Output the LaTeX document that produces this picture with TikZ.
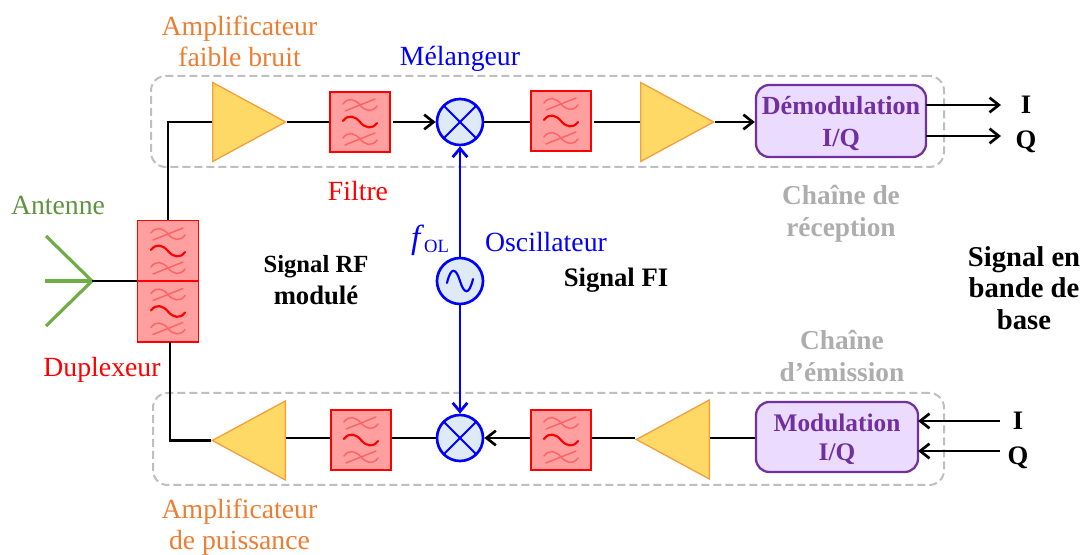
\documentclass[tikz,border=0pt]{standalone}
\usepackage{fontspec}
\setmainfont{Liberation Serif}
\usetikzlibrary{arrows.meta,shapes.geometric}
\definecolor{ampfill}{HTML}{FFD966}
\definecolor{ampline}{HTML}{F4A040}
\definecolor{ampt}{HTML}{ED7D31}
\definecolor{filtfill}{HTML}{FF9F9F}
\definecolor{filtwave}{HTML}{FF6464}
\definecolor{mixfill}{HTML}{DEEAF6}
\definecolor{violet}{HTML}{7030A0}
\definecolor{modfill}{HTML}{EBDCFF}
\definecolor{antg}{HTML}{70AD47}
\definecolor{antt}{HTML}{5E9441}
\definecolor{cadre}{HTML}{BFBFBF}
\definecolor{cadret}{HTML}{ADADAD}
\tikzset{
  txt/.style={font=\fontsize{20.8}{23.2}\selectfont, align=center, inner sep=0pt},
  txtb/.style={txt, font=\fontsize{20}{24}\selectfont\bfseries},
  lien/.style={line width=2.1pt, black},
  fleche/.style={lien, -{Straight Barb[length=7pt,width=11pt,line width=2pt]}},
  lienosc/.style={line width=2.2pt, blue, {Straight Barb[length=6.5pt,width=11pt,line width=2.1pt]}-},
  cadrepoint/.style={draw=cadre, line width=1.5pt, dash pattern=on 6pt off 3pt, rounded corners=11pt},
  ampli/.style={isosceles triangle, isosceles triangle stretches, draw=ampline, fill=ampfill, anchor=lower side,
    line width=1pt, inner sep=0pt, minimum width=79*.75pt, minimum height=73*.75pt},
  filtre/.style={rectangle, draw=red, fill=filtfill, line width=1.2pt, inner sep=0pt, minimum size=60*.75pt,
    path picture={
      \begin{scope}[shift={(path picture bounding box.center)}]
        \foreach \dy in {-17,17} {
          \draw[filtwave, line width=1.1pt, line cap=round] (-17,\dy-1) .. controls (-12,\dy-8) and (-5,\dy-6) .. (0,\dy) .. controls (5,\dy+6) and (12,\dy+8) .. (17,\dy+1);
          \draw[filtwave, line width=1.1pt, line cap=round] (-15,\dy+6) -- (15,\dy-6);
        }
        \draw[red, line width=1.6pt, line cap=round] (-17,-1) .. controls (-12,-8) and (-5,-6) .. (0,0) .. controls (5,6) and (12,8) .. (17,1);
      \end{scope}
    }},
  rond/.style={circle, draw=blue, fill=mixfill, line width=2pt, inner sep=0pt, minimum size=46*.75pt},
  melange/.style={rond, path picture={
      \draw[blue, line width=1.5pt] (path picture bounding box.north west) -- (path picture bounding box.south east);
      \draw[blue, line width=1.5pt] (path picture bounding box.north east) -- (path picture bounding box.south west);
    }},
  oscill/.style={rond, path picture={
      \begin{scope}[shift={(path picture bounding box.center)}]
        \draw[blue, line width=1.6pt, line cap=round] (-13,2) .. controls (-9,-15) and (-4,-13) .. (0,0) .. controls (4,13) and (9,15) .. (13,-2);
      \end{scope}
    }},
  modbox/.style={rectangle, rounded corners=10pt, draw=violet, fill=modfill, line width=1.7pt, text=violet,
    align=center, inner sep=0pt}
}
\begin{document}
\begin{tikzpicture}[x=.75pt, y=-.75pt]
   \useasboundingbox (0,0) rectangle (1082,555);
   % cadres
   \node[cadrepoint, minimum width=793*.75pt, minimum height=91*.75pt, inner sep=0pt] (recep) at (547.5,121.5) {};
   \node[cadrepoint, minimum width=791*.75pt, minimum height=92*.75pt, inner sep=0pt] (emis) at (548.5,439) {};
   % duplexeur et antenne
   \node[filtre, minimum size=61*.75pt] (dupa) at (168,251) {};
   \node[filtre, minimum size=61*.75pt] (dupb) at (168,311.5) {};
   \coordinate (anta) at (92,281);
   \coordinate (antb) at (46,236);
   \coordinate (antc) at (45,281);
   \coordinate (antd) at (46,326);
   \draw[antg, line width=2.4pt] (antb) -- (anta) -- (antd);
   \draw[antg, line width=3pt] (antc) -- (anta);
   \coordinate (dupg) at (137,281);
   \draw[lien] (anta) -- (dupg);
   % chaine de reception
   \node[ampli] (ampa) at (212,122) {};
   \node[filtre] (fa) at (360,122) {};
   \node[melange] (mixa) at (460,122) {};
   \node[filtre] (fb) at (561,121) {};
   \node[ampli] (ampb) at (640,122) {};
   \node[modbox, minimum width=170*.75pt, minimum height=72*.75pt] (demod) at (841,121) {};
   \node[text=violet, font=\fontsize{19.6}{24}\selectfont\bfseries, align=center, inner sep=0pt] (demodt) at (841,124) {Démodulation\\I/Q};
   \coordinate (sorti) at (1001,105);
   \coordinate (sortq) at (1001,136);
   \coordinate (demi) at (926,105);
   \coordinate (demq) at (926,136);
   \draw[lien] (dupa.north) |- (ampa.lower side);
   \draw[lien] (ampa.apex) -- (fa.west);
   \draw[fleche] ([xshift=1.5pt]fa.east) -- (mixa.west);
   \draw[lien] (mixa.east) -- (fb.west |- mixa.east);
   \draw[lien] ([xshift=1.5pt]fb.east |- mixa.east) -- (ampb.lower side);
   \draw[fleche] (ampb.apex) -- (demod.west |- ampb.apex);
   \draw[fleche] (demi) -- (sorti);
   \draw[fleche] (demq) -- (sortq);
   % chaine d'emission
   \node[ampli, shape border rotate=180] (ampc) at (286,440.5) {};
   \node[filtre] (fc) at (361,440) {};
   \node[melange] (mixb) at (460,438) {};
   \node[filtre] (fd) at (561,440) {};
   \node[ampli, shape border rotate=180] (ampd) at (710,439.5) {};
   \node[modbox, minimum width=162*.75pt, minimum height=70*.75pt] (mod) at (837,437) {};
   \node[text=violet, font=\fontsize{19}{21.5}\selectfont\bfseries, align=center, inner sep=0pt] (modt) at (837,439) {Modulation\\I/Q};
   \coordinate (duph) at (170,342);
   \coordinate (entri) at (1000,421);
   \coordinate (entrq) at (1000,451);
   \coordinate (modi) at (918,421);
   \coordinate (modq) at (918,451);
   \draw[lien] (duph) |- (ampc.apex);
   \draw[lien] (ampc.lower side |- mixb.west) -- (fc.west |- mixb.west);
   \draw[lien] (fc.east |- mixb.west) -- (mixb.west);
   \draw[fleche] (fd.west |- mixb.east) -- (mixb.east);
   \draw[lien] (fd.east |- mixb.east) -- (ampd.apex |- mixb.east);
   \draw[lien] (mod.west |- mixb.east) -- (ampd.lower side |- mixb.east);
   \draw[fleche] (entri) -- (modi);
   \draw[fleche] (entrq) -- (modq);
   % oscillateur
   \node[oscill] (osc) at (460,281) {};
   \draw[lienosc] (mixa.south) -- (osc.north);
   \draw[lienosc] (mixb.north) -- (osc.south);
   % textes
   \node[txt, text=ampt] (lnalab) at (239.5,41) {Amplificateur\\faible bruit};
   \node[txt, text=blue] (mixlab) at (460,59) {Mélangeur};
   \node[txt, text=red] (filtlab) at (358,191) {Filtre};
   \node[txt, text=antt] (antlab) at (58,205) {Antenne};
   \node[txt, text=red] (duplab) at (102,370) {Duplexeur};
   \node[txt, text=blue, font=\fontsize{25}{25}\selectfont] (flab) at (430,240) {\textit{f}{\fontsize{14}{14}\selectfont\raisebox{-3pt}{OL}}};
   \node[txt, text=blue] (osclab) at (546,242) {Oscillateur};
   \node[txtb] (rflab) at (316,280) {{\fontsize{18.5}{24}\selectfont Signal RF}\\modulé};
   \node[txtb] (filab) at (616,280) {Signal FI};
   \node[txtb, text=cadret, font=\fontsize{20.5}{24}\selectfont\bfseries] (reclab) at (841,213.5) {Chaîne de\\réception};
   \node[txtb, text=cadret, font=\fontsize{20.5}{23.5}\selectfont\bfseries] (emilab) at (842,356) {Chaîne\\d’émission};
   \node[txtb, font=\fontsize{21.5}{23.7}\selectfont\bfseries] (bblab) at (1024,288) {Signal en\\bande de\\base};
   \node[txtb] (ilaba) at (1026,105) {I};
   \node[txtb] (qlaba) at (1026,142) {Q};
   \node[txtb] (ilabb) at (1018,421) {I};
   \node[txtb] (qlabb) at (1018,458) {Q};
   \node[txt, text=ampt] (palab) at (239.5,527.5) {Amplificateur\\de puissance};
\end{tikzpicture}
\end{document}
